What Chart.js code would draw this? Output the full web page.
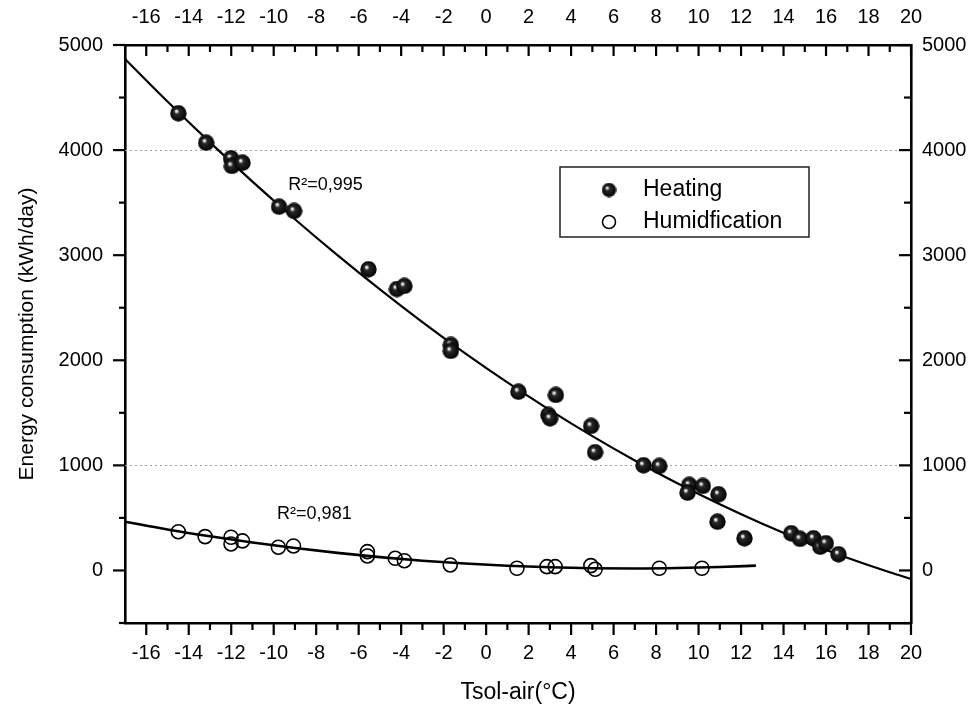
<!DOCTYPE html>
<html><head><meta charset="utf-8">
<script src="https://cdn.jsdelivr.net/npm/chart.js@4.4.1/dist/chart.umd.min.js"></script>
<style>html,body{margin:0;padding:0;background:#fff}#wrap{width:978px;height:709px;position:relative}</style>
</head><body><div id="wrap"><canvas id="c" width="978" height="709"></canvas></div>
<script>
// ---- data ----
const seriesLabels = ['Heating', 'Humidfication'];
const heatingX = [-14.49,-13.18,-12.01,-11.97,-11.47,-9.75,-9.04,-5.54,-4.20,-3.85,-1.66,-1.66,1.52,3.28,2.93,3.01,4.94,5.13,7.41,8.15,9.56,9.48,10.20,10.94,10.89,12.16,14.36,14.78,15.41,15.73,15.99,16.59];
const heatingY = [4350,4070,3922,3849,3880,3462,3421,2866,2678,2707,2146,2089,1701,1670,1480,1448,1375,1125,1001,994,814,740,804,725,464,306,354,300,306,226,259,154];
const humidX = [-14.49,-13.23,-12.01,-12.01,-11.47,-9.78,-9.07,-5.59,-5.59,-4.28,-3.85,-1.69,1.45,2.86,3.25,4.93,5.13,8.15,10.16];
const humidY = [369,322,316,252,281,221,233,179,138,116,93,52,21,36,36,46,11,21,21];
const heatingFitX = [-17,-15,-13,-11,-9,-7,-5,-3,-1,1,3,5,7,9,11,13,15,17,19,20];
const heatingFitY = [4867,4462,4073,3700,3342,3000,2674,2363,2068,1789,1526,1278,1046,829,629,444,274,121,-17,-80];
const humidFitX = [-17,-15,-13,-11,-9,-7,-5,-3,-1,1,3,5,7,9,11,12.7];
const humidFitY = [464,390,325,266,213,167,127,93,66,45,30,21,19,23,33,46];
const r2Labels = ['R\u00B2=0,995', 'R\u00B2=0,981'];
const r2PosX = [-9.32, -9.84];
const r2PosY = [3668, 538];
const xTickValues = [-16,-14,-12,-10,-8,-6,-4,-2,0,2,4,6,8,10,12,14,16,18,20];
const xMinorValues = [-15,-13,-11,-9,-7,-5,-3,-1,1,3,5,7,9,11,13,15,17,19];
const yTickValues = [0,1000,2000,3000,4000,5000];
const yMinorValues = [-500,500,1500,2500,3500,4500];
const gridLineValues = [1000,4000];
const xTitle = 'Tsol-air(\u00B0C)';
const yTitle = 'Energy consumption (kWh/day)';

const FONT = 'Arial, "Liberation Sans", sans-serif';

function sphere(size){
  const c = document.createElement('canvas');
  c.width = size; c.height = size;
  const g = c.getContext('2d');
  const r = size/2;
  const grd = g.createRadialGradient(r-2.2, r-2.4, 0, r, r, r);
  grd.addColorStop(0, '#ffffff');
  grd.addColorStop(0.14, '#cfcfcf');
  grd.addColorStop(0.3, '#2a2a2a');
  grd.addColorStop(1, '#000000');
  g.fillStyle = grd;
  g.beginPath(); g.arc(r, r, r-0.3, 0, Math.PI*2); g.fill();
  return c;
}
const sphereImg = sphere(17);
const sphereLegend = sphere(15);

const pts = (xs, ys) => xs.map((x,i)=>({x:x, y:ys[i]}));

const framePlugin = {
  id: 'frameTicks',
  beforeDatasetsDraw(chart){
    const {ctx, chartArea:a, scales} = chart;
    ctx.save();
    ctx.strokeStyle = '#a0a0a0'; ctx.lineWidth = 1; ctx.setLineDash([2,3]);
    gridLineValues.forEach(v=>{
      const py = Math.round(scales.y.getPixelForValue(v)) + 0.5;
      ctx.beginPath(); ctx.moveTo(a.left, py); ctx.lineTo(a.right, py); ctx.stroke();
    });
    ctx.restore();
  },
  afterDraw(chart){
    const {ctx, chartArea:a, scales} = chart;
    ctx.save();
    ctx.strokeStyle = '#000'; ctx.lineWidth = 2.2; ctx.setLineDash([]);
    const line = (x1,y1,x2,y2)=>{ctx.beginPath(); ctx.moveTo(x1,y1); ctx.lineTo(x2,y2); ctx.stroke();};
    xTickValues.forEach(v=>{ const p = scales.x.getPixelForValue(v); line(p, a.bottom, p, a.bottom+12); });
    xMinorValues.forEach(v=>{ const p = scales.x.getPixelForValue(v); line(p, a.bottom, p, a.bottom+7); });
    xTickValues.forEach(v=>{ const p = scales.x2.getPixelForValue(v); line(p, a.top, p, a.top+11); });
    xMinorValues.forEach(v=>{ const p = scales.x2.getPixelForValue(v); line(p, a.top, p, a.top+7); });
    yTickValues.forEach(v=>{ const p = scales.y.getPixelForValue(v); line(a.left, p, a.left-12, p); });
    yMinorValues.forEach(v=>{ const p = scales.y.getPixelForValue(v); line(a.left, p, a.left-6, p); });
    yTickValues.forEach(v=>{ const p = scales.y2.getPixelForValue(v); line(a.right, p, a.right-12, p); });
    yMinorValues.forEach(v=>{ const p = scales.y2.getPixelForValue(v); line(a.right, p, a.right-7, p); });

    ctx.fillStyle = '#000';
    ctx.font = '18px ' + FONT;
    ctx.textBaseline = 'middle'; ctx.textAlign = 'left';
    r2Labels.forEach((t,i)=>{
      ctx.fillText(t, scales.x.getPixelForValue(r2PosX[i]), scales.y.getPixelForValue(r2PosY[i]));
    });

    const lx = a.left + 435, ly = a.top + 122, lw = 249, lh = 70;
    ctx.lineWidth = 1.5; ctx.strokeStyle = '#222';
    ctx.strokeRect(lx, ly, lw, lh);
    ctx.drawImage(sphereLegend, lx + 49 - 7.5, ly + 23 - 7.5);
    ctx.lineWidth = 1.5; ctx.strokeStyle = '#000';
    ctx.beginPath(); ctx.arc(lx + 49, ly + 55, 6.5, 0, Math.PI*2); ctx.stroke();
    ctx.font = '23px ' + FONT;
    ctx.fillStyle = '#000';
    ctx.fillText(chart.data.datasets[0].label, lx + 83, ly + 23);
    ctx.fillText(chart.data.datasets[1].label, lx + 83, ly + 55);
    ctx.restore();
  }
};

const tickFont = {family: FONT, size: 20};
const setX = s => { s.ticks = xTickValues.map(v=>({value:v})); };
const setY = s => { s.ticks = yTickValues.map(v=>({value:v})); };
const border = {display:true, color:'#000', width:2.6};
const grid = {display:false, drawTicks:false};

new Chart(document.getElementById('c'), {
  type: 'scatter',
  data: {
    datasets: [
      {label: seriesLabels[0], data: pts(heatingX, heatingY), xAxisID:'x', yAxisID:'y',
       pointStyle: sphereImg, pointRadius: 8, order: 0},
      {label: seriesLabels[1], data: pts(humidX, humidY), xAxisID:'x', yAxisID:'y',
       pointStyle: 'circle', pointRadius: 7, borderWidth: 1.6, borderColor:'#000',
       backgroundColor:'rgba(0,0,0,0)', order: 0},
      {label: 'Heating fit', data: pts(heatingFitX, heatingFitY), xAxisID:'x', yAxisID:'y',
       showLine: true, pointRadius: 0, borderColor:'#000', borderWidth: 2.2,
       cubicInterpolationMode: 'monotone', order: 1},
      {label: 'Humidification fit', data: pts(humidFitX, humidFitY), xAxisID:'x', yAxisID:'y',
       showLine: true, pointRadius: 0, borderColor:'#000', borderWidth: 2.6,
       cubicInterpolationMode: 'monotone', order: 1}
    ]
  },
  options: {
    responsive: false,
    animation: false,
    devicePixelRatio: 1,
    layout: {padding: 0},
    plugins: {legend:{display:false}, tooltip:{enabled:false}},
    scales: {
      x: {type:'linear', position:'bottom', min:-17, max:20, grid, border,
          afterBuildTicks: setX, afterFit: s=>{s.height = 86;},
          ticks:{font:tickFont, color:'#000', padding:18, maxRotation:0, autoSkip:false, callback:v=>String(v)},
          title:{display:true, text:xTitle, color:'#000', font:{family:FONT, size:23}, padding:{top:3,bottom:3}}},
      x2: {type:'linear', position:'top', min:-17, max:20, grid, border,
          afterBuildTicks: setX, afterFit: s=>{s.height = 45;},
          ticks:{font:tickFont, color:'#000', padding:16, maxRotation:0, autoSkip:false, callback:v=>String(v)}},
      y: {type:'linear', position:'left', min:-500, max:5000, grid, border,
          afterBuildTicks: setY, afterFit: s=>{s.width = 125;},
          ticks:{font:tickFont, color:'#000', padding:22, autoSkip:false, callback:v=>String(v)},
          title:{display:true, text:yTitle, color:'#000', font:{family:FONT, size:21}, padding:{top:15,bottom:15}}},
      y2: {type:'linear', position:'right', min:-500, max:5000, grid, border,
          afterBuildTicks: setY, afterFit: s=>{s.width = 67;},
          ticks:{font:tickFont, color:'#000', padding:11, autoSkip:false, callback:v=>String(v)}}
    }
  },
  plugins: [framePlugin]
});
</script>
</body></html>
